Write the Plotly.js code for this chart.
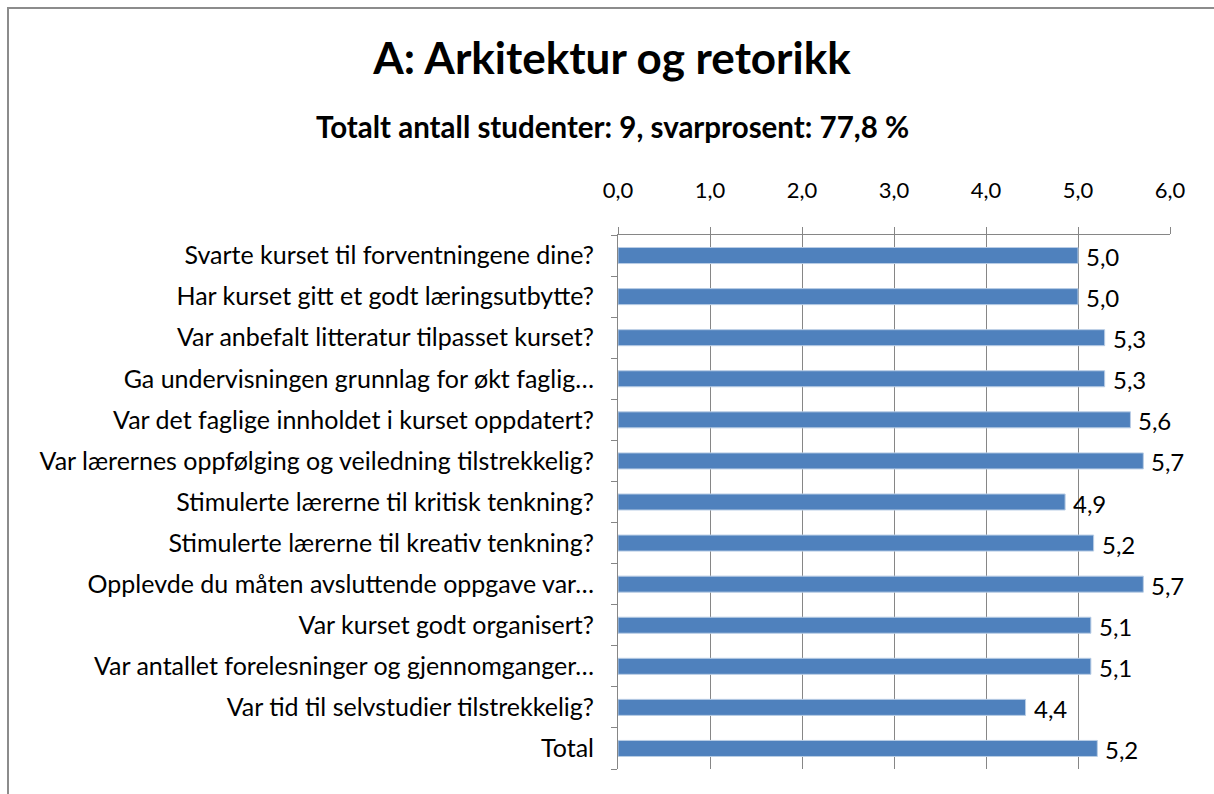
<!DOCTYPE html>
<html>
<head>
<meta charset="utf-8">
<script src="https://cdn.plot.ly/plotly-3.0.1.min.js"></script>
<style>
  html, body { margin: 0; padding: 0; background: #fff; overflow: hidden; }
  #chart { position: absolute; left: 0; top: 0; width: 1214px; height: 794px; }
  #frame { position: absolute; left: 7px; top: 7px; width: 1300px; height: 900px;
           border: 2px solid #8c8c8c; pointer-events: none; box-sizing: border-box; }
</style>
</head>
<body>
<div id="chart"></div>
<div id="frame"></div>
<script>
const chartTitle = "A: Arkitektur og retorikk";
const chartSubtitle = "Totalt antall studenter: 9, svarprosent: 77,8 %";

const categories = [
  "Svarte kurset til forventningene dine?",
  "Har kurset gitt et godt læringsutbytte?",
  "Var anbefalt litteratur tilpasset kurset?",
  "Ga undervisningen grunnlag for økt faglig…",
  "Var det faglige innholdet i kurset oppdatert?",
  "Var lærernes oppfølging og veiledning tilstrekkelig?",
  "Stimulerte lærerne til kritisk tenkning?",
  "Stimulerte lærerne til kreativ tenkning?",
  "Opplevde du måten avsluttende oppgave var…",
  "Var kurset godt organisert?",
  "Var antallet forelesninger og gjennomganger…",
  "Var tid til selvstudier tilstrekkelig?",
  "Total"
];
const values = [5.0, 5.0, 5.29, 5.29, 5.57, 5.71, 4.86, 5.17, 5.71, 5.14, 5.14, 4.43, 5.21];
const tickValues = [0, 1, 2, 3, 4, 5, 6];
const tickLabels = ["0,0", "1,0", "2,0", "3,0", "4,0", "5,0", "6,0"];

const fmt = v => v.toFixed(1).replace(".", ",");
const FONT = "Lato, 'Open Sans', sans-serif";

const bars = {
  type: "bar",
  orientation: "h",
  y: categories,
  x: values,
  marker: { color: "#4F81BD", line: { color: "#B9CDE5", width: 1 } },
  hoverinfo: "skip"
};

const valueAnnotations = values.map((v, i) => ({
  x: v, y: categories[i], xref: "x", yref: "y",
  text: fmt(v), showarrow: false,
  xanchor: "left", yanchor: "middle", xshift: 6, yshift: -1,
  font: { family: FONT, size: 24, color: "#000" }
}));

const layout = {
  width: 1214,
  height: 794,
  paper_bgcolor: "rgba(0,0,0,0)",
  plot_bgcolor: "#fff",
  showlegend: false,
  bargap: 0.61,
  margin: { l: 618, r: 44, t: 235, b: 25, pad: 0 },
  font: { family: FONT, size: 22, color: "#000" },
  title: {
    text: "<b>" + chartTitle + "</b>",
    font: { family: FONT, size: 44, color: "#000" },
    x: 612 / 1214, xanchor: "center",
    y: 1 - 59 / 794, yanchor: "middle",
    xref: "container", yref: "container"
  },
  annotations: [{
    text: "<b>" + chartSubtitle + "</b>",
    xref: "paper", yref: "paper",
    x: (612 - 618) / (1214 - 618 - 44), xanchor: "center",
    y: 1 + (235 - 126) / (794 - 235 - 25), yanchor: "middle",
    showarrow: false,
    font: { family: FONT, size: 29.5, color: "#000" }
  }].concat(valueAnnotations),
  xaxis: {
    side: "top",
    range: [0, 6],
    tickvals: tickValues,
    ticktext: tickLabels,
    showgrid: true,
    gridcolor: "#868686",
    gridwidth: 1,
    showline: true,
    linecolor: "#868686",
    linewidth: 1,
    ticks: "outside",
    ticklen: 7,
    tickcolor: "#868686",
    ticklabelstandoff: 20,
    zeroline: false,
    tickfont: { family: FONT, size: 22, color: "#000" },
    fixedrange: true
  },
  yaxis: {
    type: "category",
    autorange: "reversed",
    showline: true,
    linecolor: "#868686",
    linewidth: 1,
    ticks: "outside",
    tickson: "boundaries",
    ticklen: 6,
    tickcolor: "#868686",
    ticklabelstandoff: 18,
    showgrid: false,
    tickfont: { family: FONT, size: 25, color: "#000" },
    fixedrange: true
  },
  yaxis2: {
    overlaying: "y",
    side: "left",
    anchor: "x",
    range: [categories.length - 0.5, -0.5],
    tick0: -0.5,
    dtick: 1,
    ticks: "outside",
    ticklen: 6,
    tickcolor: "#868686",
    showticklabels: false,
    showgrid: false,
    zeroline: false,
    showline: false,
    fixedrange: true
  }
};

const tickHelper = {
  type: "scatter", mode: "none", x: [], y: [], yaxis: "y2", hoverinfo: "skip"
};

Plotly.newPlot("chart", [bars, tickHelper], layout, { displayModeBar: false, staticPlot: true });
</script>
</body>
</html>
